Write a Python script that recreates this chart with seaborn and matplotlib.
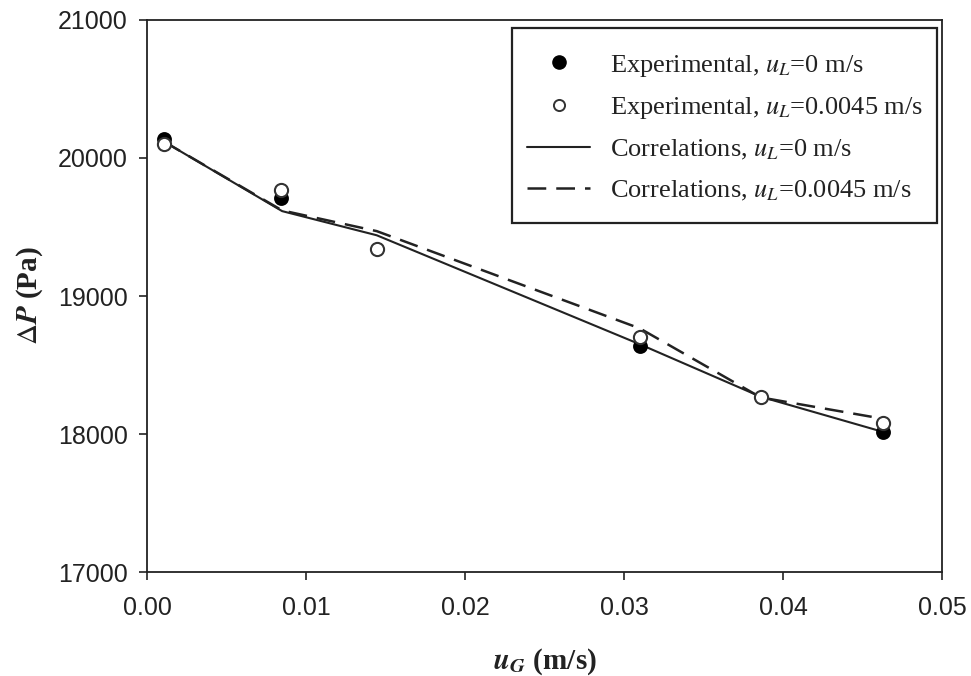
import matplotlib
matplotlib.use("Agg")
import matplotlib.pyplot as plt
import seaborn as sns
import pandas as pd
from matplotlib.lines import Line2D
from matplotlib.patches import Rectangle

# Data
exp_x0 = [0.00105, 0.0084, 0.0310, 0.0463]
exp_y0 = [20140, 19710, 18640, 18015]
exp_x45 = [0.00105, 0.0084, 0.01445, 0.0310, 0.0386, 0.0463]
exp_y45 = [20100, 19765, 19340, 18700, 18270, 18080]
cor_x = [0.00105, 0.0085, 0.01445, 0.0310, 0.0386, 0.0463]
cor_y0 = [20120, 19615, 19440, 18650, 18270, 18015]
cor_y45 = [20120, 19620, 19470, 18765, 18265, 18110]

xticks = [0.00, 0.01, 0.02, 0.03, 0.04, 0.05]
yticks = [17000, 18000, 19000, 20000, 21000]

sns.set_style("ticks")
plt.rcParams['font.family'] = ['Liberation Sans', 'DejaVu Sans']
plt.rcParams['mathtext.fontset'] = 'stix'

INK = "#222222"
DASH = (0, (7.5, 4))

fig = plt.figure(figsize=(9.71, 6.76), dpi=100)
ax = fig.add_axes([147/971, 1-572/676, 795/971, 552/676])

df_c0 = pd.DataFrame({"x": cor_x, "y": cor_y0})
df_c45 = pd.DataFrame({"x": cor_x, "y": cor_y45})
df_e0 = pd.DataFrame({"x": exp_x0, "y": exp_y0})
df_e45 = pd.DataFrame({"x": exp_x45, "y": exp_y45})

sns.lineplot(data=df_c0, x="x", y="y", ax=ax, color=INK, lw=1.5, sort=False)
sns.lineplot(data=df_c45, x="x", y="y", ax=ax, color=INK, lw=1.8,
             linestyle=DASH, sort=False)
sns.scatterplot(data=df_e0, x="x", y="y", ax=ax, color="black", s=90,
                edgecolor="black", linewidth=1.2, zorder=3)
sns.scatterplot(data=df_e45, x="x", y="y", ax=ax, facecolor="white", s=90,
                edgecolor="#333333", linewidth=1.5, zorder=4)

ax.set_xlim(0, 0.05)
ax.set_ylim(17000, 21000)
ax.set_xticks(xticks)
ax.set_xticklabels([f"{v:.2f}" for v in xticks])
ax.set_yticks(yticks)
ax.set_yticklabels([str(v) for v in yticks])
ax.tick_params(axis='both', direction='out', length=6, width=1.2, labelsize=18,
               colors=INK)
ax.tick_params(axis='x', pad=11)
ax.tick_params(axis='y', pad=8)
for s in ax.spines.values():
    s.set_visible(True)
    s.set_linewidth(1.3)
    s.set_color(INK)

ax.set_xlabel(r"$\mathbfit{u}_{\mathbfit{G}}$ (m/s)", fontsize=21, fontweight='bold',
              family='Liberation Serif', labelpad=19, color=INK)
ax.set_ylabel(r"$\Delta\mathbfit{P}$ (Pa)", fontsize=21, fontweight='bold',
              family='Liberation Serif', labelpad=9, color=INK)

handles = [
    Line2D([], [], marker='o', ls='none', color='black', markersize=9.5),
    Line2D([], [], marker='o', ls='none', markerfacecolor='white',
           markeredgecolor='#333333', markeredgewidth=1.4, markersize=8),
    Line2D([], [], color=INK, lw=1.5),
    Line2D([], [], color=INK, lw=1.8, linestyle=DASH),
]
labels = [
    r"Experimental, $u_L$=0 m/s",
    r"Experimental, $u_L$=0.0045 m/s",
    r"Correlations, $u_L$=0 m/s",
    r"Correlations, $u_L$=0.0045 m/s",
]
leg = ax.legend(handles, labels, loc='upper left', bbox_to_anchor=(0.478, 0.941),
                frameon=False,
                prop={'family': 'Liberation Serif', 'size': 19},
                handlelength=2.4, handletextpad=0.75, labelspacing=0.63,
                borderpad=0, borderaxespad=0)
for t in leg.get_texts():
    t.set_color(INK)

# legend frame
ax.add_patch(Rectangle((0.4591, 0.6322), 0.9937 - 0.4591, 0.9855 - 0.6322,
                       transform=ax.transAxes, fill=False, edgecolor=INK,
                       lw=1.6, zorder=5, clip_on=False))

fig.savefig("out.png", dpi=100)
